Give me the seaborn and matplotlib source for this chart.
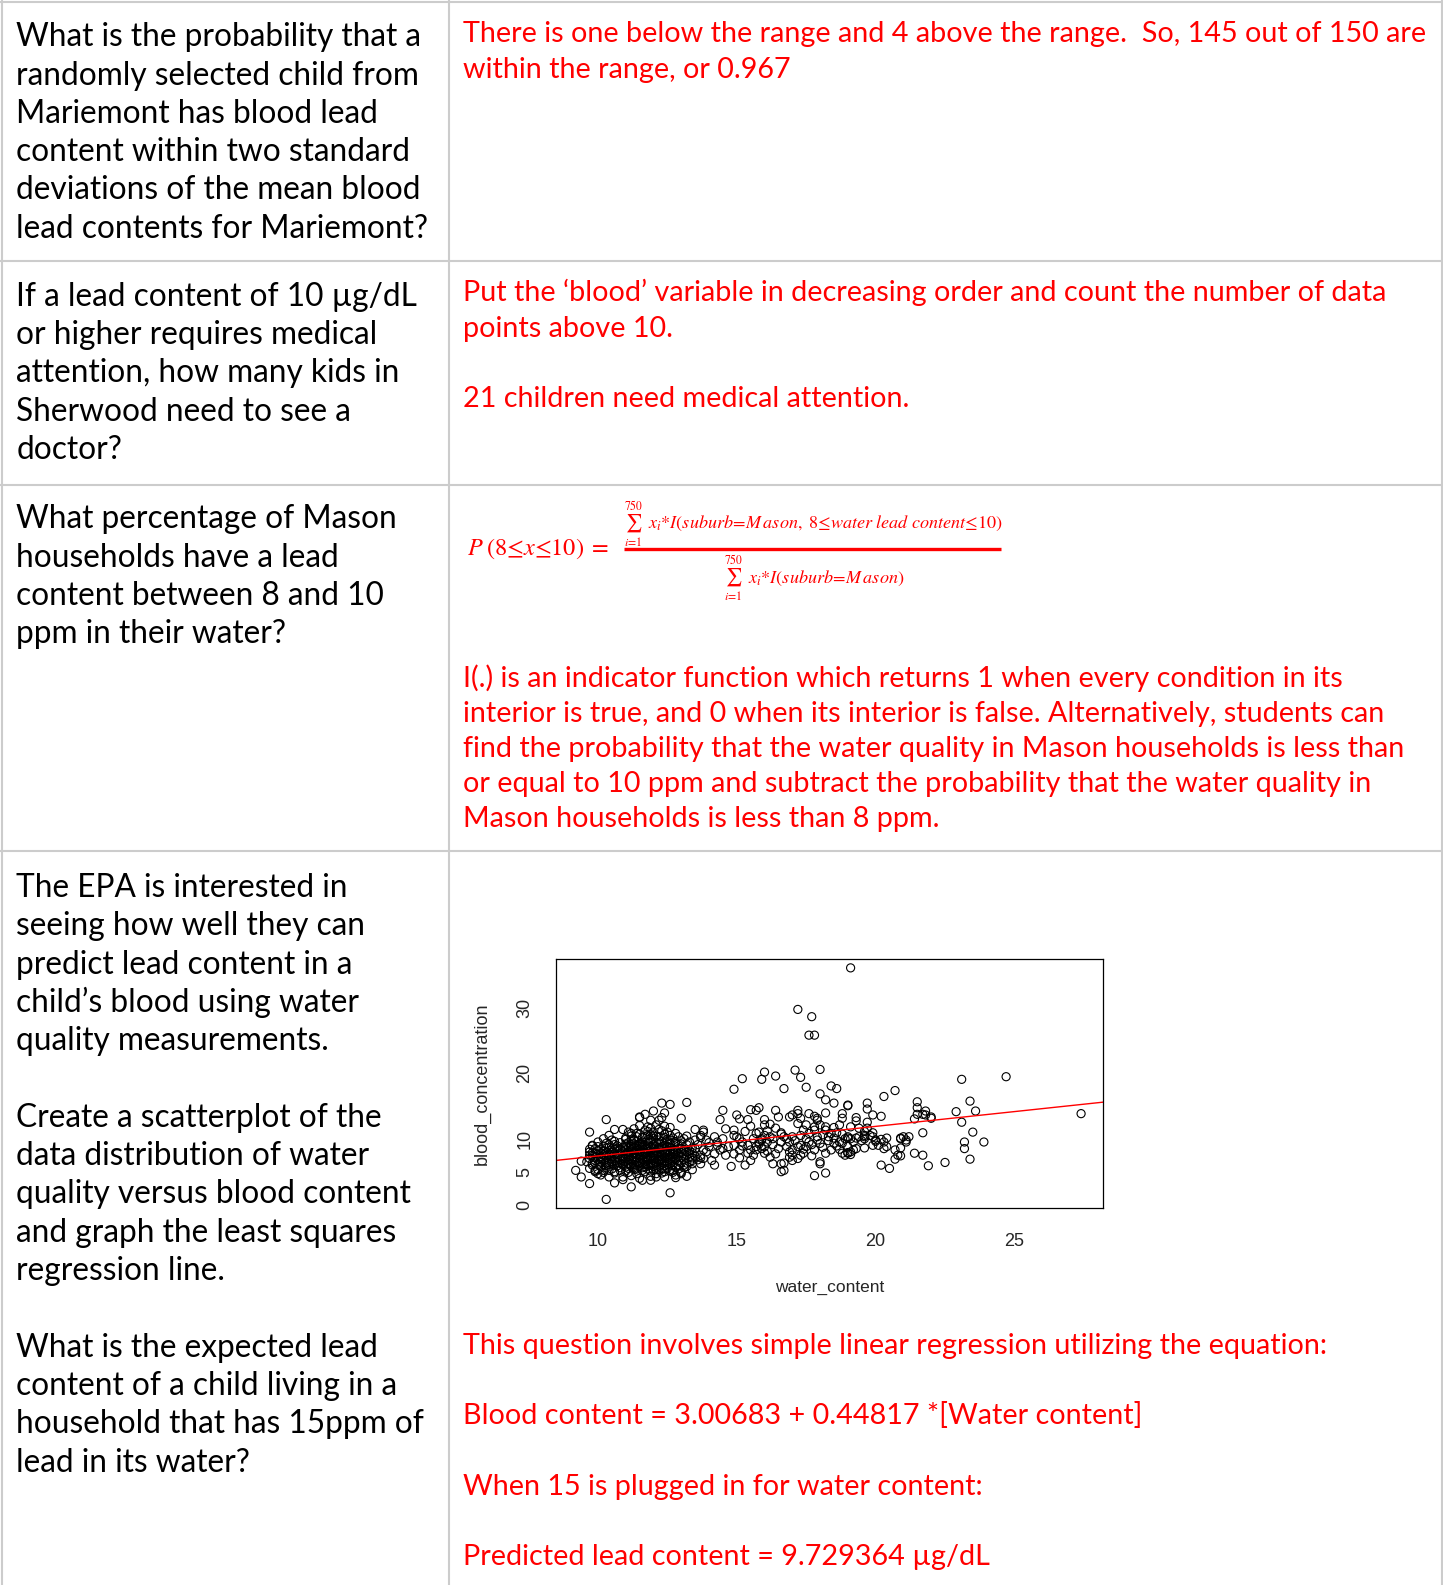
import pandas as pd
import seaborn as sns
import matplotlib.pyplot as plt

# ---------------- text of the table ----------------
q_mariemont = ["What is the probability that a", "randomly selected child from",
               "Mariemont has blood lead", "content within two standard",
               "deviations of the mean blood", "lead contents for Mariemont?"]
q_sherwood = ["If a lead content of 10 µg/dL", "or higher requires medical",
              "attention, how many kids in", "Sherwood need to see a", "doctor?"]
q_mason = ["What percentage of Mason", "households have a lead",
           "content between 8 and 10", "ppm in their water?"]
q_epa = ["The EPA is interested in", "seeing how well they can",
         "predict lead content in a", "child\u2019s blood using water",
         "quality measurements.", "",
         "Create a scatterplot of the", "data distribution of water",
         "quality versus blood content", "and graph the least squares",
         "regression line.", "",
         "What is the expected lead", "content of a child living in a",
         "household that has 15ppm of", "lead in its water?"]

a_mariemont = ["There is one below the range and 4 above the range.  So, 145 out of 150 are",
               "within the range, or 0.967"]
a_sherwood = ["Put the \u2018blood\u2019 variable in decreasing order and count the number of data",
              "points above 10.", "", "21 children need medical attention."]
a_mason = ["I(.) is an indicator function which returns 1 when every condition in its",
           "interior is true, and 0 when its interior is false. Alternatively, students can",
           "find the probability that the water quality in Mason households is less than",
           "or equal to 10 ppm and subtract the probability that the water quality in",
           "Mason households is less than 8 ppm."]
a_epa = ["This question involves simple linear regression utilizing the equation:", "",
         "Blood content = 3.00683 + 0.44817 *[Water content]", "",
         "When 15 is plugged in for water content:", "",
         "Predicted lead content = 9.729364 µg/dL"]

# regression line from the answer
intercept = 3.00683
slope = 0.44817

# ---------------- scatter data (water_content, blood_concentration) ----------------
cluster_pts = [
    (10.1, 4.6), (10.4, 4.3), (11.2, 4.5), (11.5, 4.1), (11.9, 4.4), (12.1, 4.8), (12.4, 4.3), (12.8, 4.6),
    (9.9, 5.1), (10.2, 5.0), (10.6, 4.9), (11.0, 5.2), (11.4, 4.8), (11.7, 5.1), (12.0, 5.3), (12.3, 4.9),
    (12.6, 5.2), (13.0, 5.0), (9.7, 5.6), (10.0, 5.4), (10.3, 5.7), (10.5, 5.5), (10.8, 5.3), (11.1, 5.6),
    (11.3, 5.4), (11.6, 5.7), (11.8, 5.5), (12.1, 5.8), (12.2, 5.4), (12.5, 5.6), (12.7, 5.3), (13.1, 5.7),
    (9.8, 6.1), (10.1, 5.9), (10.4, 6.2), (10.7, 6.0), (10.9, 6.3), (11.2, 5.9), (11.4, 6.1), (11.5, 6.4),
    (11.8, 6.0), (11.9, 6.3), (12.0, 5.9), (12.3, 6.2), (12.4, 6.0), (12.6, 6.3), (12.9, 6.1), (13.2, 5.9),
    (9.6, 6.6), (9.9, 6.4), (10.2, 6.7), (10.4, 6.5), (10.6, 6.8), (10.8, 6.4), (11.0, 6.6), (11.3, 6.8),
    (11.5, 6.5), (11.7, 6.7), (11.9, 6.4), (12.1, 6.6), (12.2, 6.9), (12.5, 6.5), (12.7, 6.7), (13.0, 6.4),
    (13.3, 6.6), (9.7, 7.1), (10.0, 6.9), (10.3, 7.2), (10.5, 7.0), (10.7, 7.3), (11.0, 7.1), (11.1, 6.9),
    (11.4, 7.2), (11.6, 7.0), (11.8, 7.3), (12.0, 7.1), (12.2, 6.9), (12.4, 7.2), (12.6, 7.0), (12.8, 7.3),
    (13.1, 7.0), (13.4, 7.2), (9.8, 7.6), (10.1, 7.4), (10.2, 7.7), (10.4, 7.5), (10.6, 7.8), (10.9, 7.4),
    (11.2, 7.6), (11.3, 7.9), (11.5, 7.5), (11.7, 7.7), (11.9, 7.4), (12.1, 7.6), (12.3, 7.8), (12.5, 7.5),
    (12.7, 7.7), (12.9, 7.4), (13.2, 7.6), (9.7, 8.1), (9.9, 7.9), (10.2, 8.2), (10.5, 8.0), (10.7, 8.3),
    (10.8, 7.9), (11.1, 8.1), (11.4, 8.3), (11.6, 8.0), (11.8, 8.2), (12.0, 7.9), (12.1, 8.3), (12.4, 8.1),
    (12.6, 7.9), (12.8, 8.2), (13.0, 8.0), (13.3, 8.3), (9.9, 8.6), (10.1, 8.4), (10.3, 8.7), (10.6, 8.5),
    (10.9, 8.8), (11.2, 8.5), (11.3, 8.7), (11.5, 8.4), (11.7, 8.6), (11.9, 8.8), (12.2, 8.5), (12.3, 8.7),
    (12.5, 8.4), (12.7, 8.6), (13.1, 8.5), (13.4, 8.7), (9.8, 9.1), (10.0, 8.9), (10.4, 9.2), (10.7, 9.0),
    (11.0, 9.3), (11.2, 8.9), (11.4, 9.1), (11.6, 9.3), (11.8, 9.0), (12.0, 9.2), (12.1, 8.9), (12.4, 9.1),
    (12.6, 9.3), (12.9, 9.0), (13.2, 9.2), (10.0, 9.6), (10.3, 9.4), (10.6, 9.7), (11.1, 9.5), (11.3, 9.8),
    (11.5, 9.4), (11.7, 9.6), (11.9, 9.8), (12.2, 9.5), (12.3, 9.7), (12.6, 9.4), (12.8, 9.6), (13.0, 9.8),
    (10.2, 10.1), (10.5, 9.9), (11.0, 10.2), (11.3, 10.0), (11.6, 10.3), (11.8, 9.9), (12.0, 10.1),
    (12.2, 10.4), (12.5, 10.0), (12.7, 10.2), (13.1, 10.1), (10.4, 10.6), (11.2, 10.5), (11.5, 10.8),
    (11.7, 10.4), (11.9, 10.7), (12.1, 10.5), (12.4, 10.8), (12.6, 10.6), (12.9, 10.4), (11.1, 11.1),
    (11.4, 10.9), (11.8, 11.2), (12.0, 11.0), (12.3, 11.3), (12.5, 11.1), (12.8, 10.9), (11.3, 11.6),
    (11.7, 11.4), (11.9, 11.7), (12.2, 11.5), (12.6, 11.8), (11.5, 12.1), (11.8, 11.9), (12.1, 12.2),
    (12.4, 12.0), (10.9, 6.1), (11.1, 7.4), (11.3, 6.2), (11.6, 8.8), (11.7, 6.2), (12.0, 6.8), (12.2, 8.0),
    (12.3, 7.3), (12.5, 8.9), (11.4, 7.7), (11.0, 8.4), (10.7, 7.7), (10.5, 6.3), (10.3, 8.0), (12.8, 6.9),
    (12.0, 8.6), (11.5, 9.0), (11.9, 7.9), (12.4, 6.6), (11.2, 6.9),
]

cluster_dense_pts = [
    (10.0, 6.2), (10.2, 5.3), (10.3, 6.4), (10.5, 7.4), (10.6, 5.1), (10.8, 6.9), (10.9, 8.1), (11.0, 5.8),
    (11.1, 6.3), (11.2, 8.2), (11.3, 7.3), (11.4, 5.5), (11.5, 7.0), (11.6, 6.4), (11.7, 7.9), (11.8, 6.8),
    (11.9, 5.2), (12.0, 7.6), (12.1, 6.1), (12.2, 7.4), (12.3, 5.6), (12.4, 7.9), (12.5, 6.2), (12.6, 8.3),
    (12.7, 6.0), (12.8, 7.6), (12.9, 8.6), (13.0, 7.3), (13.1, 6.1), (13.2, 8.1), (10.1, 7.0), (10.3, 6.0),
    (10.4, 7.8), (10.6, 6.1), (10.7, 8.7), (10.8, 5.7), (11.0, 7.8), (11.1, 8.7), (11.2, 6.2), (11.3, 9.3),
    (11.4, 6.6), (11.5, 8.1), (11.6, 5.3), (11.7, 9.1), (11.8, 7.0), (11.9, 8.4), (12.0, 6.3), (12.1, 9.6),
    (12.2, 6.7), (12.3, 8.9), (12.4, 5.6), (12.5, 9.7), (12.6, 6.9), (12.7, 8.1), (12.8, 5.8), (12.9, 7.8),
    (13.0, 9.3), (13.1, 7.8), (13.3, 7.9), (13.4, 6.8), (9.9, 7.3), (10.0, 8.3), (10.2, 9.0), (10.4, 5.3),
    (10.5, 8.4), (10.6, 9.2), (10.8, 9.5), (10.9, 6.7), (11.0, 10.0), (11.1, 5.0), (11.2, 9.9), (11.3, 5.7),
    (11.4, 10.4), (11.5, 6.0), (11.6, 9.6), (11.7, 5.8), (11.8, 10.6), (11.9, 6.1), (12.0, 10.5), (12.1, 5.4),
    (12.2, 9.9), (12.3, 6.5), (12.4, 10.3), (12.5, 7.2), (12.6, 9.9), (12.7, 5.0), (12.8, 9.4), (12.9, 5.5),
    (13.0, 8.6), (13.2, 6.4), (10.1, 6.6), (10.3, 7.5), (10.5, 6.6), (10.7, 6.5), (10.9, 7.1), (11.1, 7.7),
    (11.3, 8.0), (11.5, 7.9), (11.7, 7.2), (11.9, 7.2), (12.1, 7.9), (12.3, 6.9), (12.5, 7.9), (12.7, 7.3),
    (12.9, 6.8), (11.0, 8.9), (11.4, 8.6), (11.8, 8.5), (12.2, 8.7), (12.6, 8.8), (10.8, 8.5), (11.2, 9.2),
    (11.6, 9.0), (12.0, 9.0), (12.4, 9.4), (10.4, 8.8), (9.8, 8.0), (9.9, 6.8), (9.7, 7.6), (10.0, 7.8),
    (13.3, 7.3), (13.4, 8.0), (13.5, 7.5), (13.5, 8.6), (13.6, 9.2), (13.3, 9.6), (13.5, 9.9), (13.6, 6.9),
    (13.4, 5.4), (13.2, 10.5),
]

cluster_edge_pts = [
    (10.3, 0.9), (12.6, 1.9), (9.7, 3.3), (9.4, 4.3), (9.2, 5.3), (11.2, 2.8), (10.6, 3.4), (10.9, 3.9),
    (10.9, 4.3), (9.7, 11.1), (10.3, 13.0), (10.6, 11.5), (12.3, 15.5), (12.6, 15.3), (13.2, 15.6),
    (13.0, 13.2), (12.0, 14.3), (11.7, 13.8), (11.5, 13.4), (11.5, 13.3), (11.9, 12.9), (12.2, 12.9),
    (12.3, 13.3), (12.4, 14.0), (13.2, 4.4), (13.0, 4.8), (12.8, 4.2), (13.7, 6.3), (13.4, 6.3),
    (13.7, 7.6), (13.7, 7.2), (13.8, 8.4), (13.7, 10.3), (13.7, 10.6), (13.8, 11.4), (13.5, 11.5),
    (9.7, 8.5), (9.8, 9.0), (9.8, 6.4), (9.4, 6.7), (10.0, 4.8), (9.9, 5.3), (10.9, 11.5), (11.2, 10.9),
    (11.6, 3.8), (11.9, 3.8), (12.1, 4.3), (12.4, 5.1), (12.7, 5.3), (12.9, 6.1),
]

mid_pts = [
    (14.9, 17.6), (15.2, 19.2), (15.9, 19.1), (16.0, 20.2), (16.4, 19.6), (16.7, 17.7), (17.1, 20.5),
    (17.3, 19.4), (17.5, 17.9), (18.0, 20.6), (18.4, 18.1), (18.6, 17.7), (18.0, 16.9), (18.2, 16.0),
    (18.5, 15.5), (19.0, 15.1), (14.5, 14.4), (14.4, 13.0), (15.0, 13.7), (15.1, 13.1), (15.5, 14.5),
    (15.7, 14.4), (15.8, 14.8), (15.4, 13.0), (15.5, 12.0), (16.0, 13.0), (16.0, 12.2), (16.2, 12.3),
    (16.4, 14.4), (16.5, 13.4), (16.4, 11.7), (16.6, 11.0), (16.7, 10.4), (16.9, 13.4), (17.0, 13.7),
    (17.2, 13.9), (17.2, 14.4), (17.3, 13.2), (17.2, 12.4), (17.4, 11.4), (17.5, 12.2), (17.6, 13.9),
    (17.8, 13.5), (17.9, 12.9), (18.2, 14.0), (18.2, 11.9), (18.5, 11.8), (18.7, 12.2), (18.8, 13.2),
    (18.8, 13.9), (13.8, 11.1), (13.9, 9.9), (14.2, 10.4), (14.3, 9.6), (14.3, 9.1), (14.5, 10.1),
    (14.6, 11.6), (14.9, 11.4), (14.0, 8.9), (13.9, 8.1), (13.8, 7.1), (14.2, 6.1), (14.1, 6.8),
    (14.8, 5.9), (14.6, 7.6), (14.9, 7.8), (15.1, 8.4), (15.1, 10.1), (15.2, 9.6), (15.3, 6.1),
    (15.5, 6.8), (15.6, 7.6), (15.7, 8.4), (15.7, 8.9), (15.8, 9.6), (15.8, 9.3), (15.9, 8.6),
    (16.0, 7.9), (16.0, 8.9), (16.2, 7.3), (16.3, 6.3), (16.6, 5.1), (16.7, 5.3), (16.6, 6.3),
    (16.7, 6.4), (16.9, 7.3), (17.0, 7.6), (17.0, 6.8), (17.2, 7.1), (17.3, 7.6), (17.4, 7.9),
    (17.5, 8.9), (17.3, 9.1), (17.2, 8.9), (17.0, 8.4), (16.9, 9.6), (16.8, 10.1), (16.6, 9.6),
    (17.8, 4.5), (18.2, 4.9), (18.0, 6.3), (18.0, 6.6), (17.8, 8.4), (18.2, 7.9), (18.4, 8.4),
    (18.7, 8.5), (18.8, 7.9), (19.0, 8.0), (19.0, 8.9), (18.8, 9.4), (18.7, 9.6), (18.9, 10.1),
    (19.0, 10.4), (15.7, 10.9), (15.8, 11.1), (16.0, 10.6), (15.9, 10.1), (16.1, 9.6), (16.2, 10.4),
    (16.3, 10.1), (15.5, 8.4), (15.4, 9.1), (14.9, 9.1), (15.0, 10.4), (17.9, 13.2), (18.0, 12.2),
    (17.8, 11.9), (17.6, 10.9), (17.9, 10.4), (18.2, 11.4), (18.3, 10.4), (18.4, 10.9), (17.6, 9.6),
    (18.0, 9.4), (14.0, 9.5), (14.4, 8.4), (14.7, 8.9), (14.9, 10.6), (15.2, 9.0), (15.3, 11.2),
    (15.6, 10.1), (15.9, 9.9), (16.1, 11.3), (16.3, 9.2), (16.5, 8.6), (16.6, 10.8), (16.8, 8.9),
    (17.0, 10.4), (17.1, 9.8), (17.3, 10.6), (17.5, 10.1), (17.7, 9.2), (17.9, 9.9), (18.1, 10.7),
    (18.3, 9.8), (18.5, 10.2), (18.6, 9.0), (18.8, 10.8), (16.4, 7.8), (16.9, 8.1), (17.4, 8.5),
    (17.7, 7.5), (18.1, 8.8), (18.5, 9.4), (15.1, 7.2), (15.4, 7.9), (14.5, 8.6), (14.2, 7.8),
    (16.1, 8.2), (17.8, 11.4), (18.6, 11.0),
]

upper_pts = [
    (17.2, 29.7), (17.7, 28.6), (17.6, 25.8), (17.8, 25.8), (19.1, 36.0),
    (23.1, 19.1), (24.7, 19.5), (27.4, 13.9), (20.7, 17.4), (20.3, 16.5), (19.0, 15.2), (19.7, 15.5),
    (19.7, 14.6), (19.3, 13.3), (19.3, 12.8), (19.9, 13.7), (20.2, 13.5), (19.7, 12.6), (19.7, 11.7),
    (19.1, 11.9), (21.5, 15.7), (21.5, 14.8), (21.8, 14.3), (21.7, 13.8), (21.5, 13.8), (21.8, 13.7),
    (22.0, 13.4), (22.0, 13.2), (21.4, 13.1), (21.7, 11.0), (22.9, 14.2), (23.1, 12.6), (23.4, 15.8),
    (23.6, 14.3), (23.5, 11.1), (23.2, 9.6), (23.2, 8.6), (23.9, 9.6), (23.4, 7.0), (22.5, 6.5),
    (21.9, 6.0), (21.4, 7.9), (21.7, 7.6), (21.2, 10.4), (21.1, 9.6), (20.9, 10.2), (20.9, 10.1),
    (21.0, 10.4), (21.1, 9.9), (20.9, 8.7), (20.7, 8.4), (20.8, 7.6), (20.7, 7.0), (20.9, 7.5),
    (20.5, 5.6), (20.2, 6.1), (20.4, 10.2), (20.3, 9.6), (20.4, 8.9), (20.3, 8.6), (20.0, 9.9),
    (20.0, 9.7), (19.9, 10.4), (19.6, 10.1), (19.6, 10.4), (19.4, 10.4), (19.3, 10.2), (19.1, 10.1),
    (19.0, 10.2), (19.6, 8.7), (19.9, 9.1), (20.1, 9.1), (19.0, 7.9), (19.1, 7.7), (19.2, 8.4),
    (19.3, 8.6), (19.1, 8.1), (18.9, 7.6), (19.4, 11.7), (19.6, 11.2), (19.6, 10.6), (19.8, 10.6),
    (19.9, 11.0), (19.2, 9.6), (19.5, 9.8), (20.2, 10.0),
]

all_pts = cluster_pts + cluster_dense_pts + cluster_edge_pts + mid_pts + upper_pts
df = pd.DataFrame(all_pts, columns=["water_content", "blood_concentration"])

# ---------------- figure ----------------
W, H = 1443, 1585
sns.set_style("white")
plt.rcParams["font.family"] = ["Lato", "DejaVu Sans"]
plt.rcParams["mathtext.fontset"] = "stix"

fig = plt.figure(figsize=(W / 100, H / 100), dpi=100)
bg = fig.add_axes([0, 0, 1, 1])
bg.set_xlim(0, W)
bg.set_ylim(H, 0)
bg.axis("off")

RED = "#ff0000"
GRID = "#cccccc"

# table rules
for xv in [2, 449, 1441.5]:
    bg.axvline(xv, color=GRID, lw=1.5)
for yv in [1.5, 261, 484.5, 851]:
    bg.axhline(yv, color=GRID, lw=1.5)


def put_lines(lines, x, y0, pitch, size, color):
    for i, line in enumerate(lines):
        if line:
            bg.text(x, y0 + i * pitch, line, fontsize=size, color=color,
                    ha="left", va="baseline")


LEFT_X, RIGHT_X = 16.2, 462.8
LS, RS = 22.8, 20.7
put_lines(q_mariemont, LEFT_X, 46.5, 38.2, LS, "black")
put_lines(q_sherwood, LEFT_X, 306, 38.2, LS, "black")
put_lines(q_mason, LEFT_X, 528.5, 38.2, LS, "black")
put_lines(q_epa, LEFT_X, 897, 38.3, LS, "black")

put_lines(a_mariemont, RIGHT_X, 42, 36.2, RS, RED)
put_lines(a_sherwood, RIGHT_X, 301.5, 35.2, RS, RED)
put_lines(a_mason, RIGHT_X, 687.5, 34.9, RS, RED)
put_lines(a_epa, RIGHT_X, 1354, 35.2, RS, RED)

# formula in row 3
LEQ = "\u2264"
bg.text(467, 549, "$P\\;(8" + LEQ + "x" + LEQ + "10)\\;=$", fontsize=17.5, color=RED, va="center")
bg.text(633.6, 505, "$750$", fontsize=8.5, color=RED, ha="center", va="center")
bg.text(633.6, 523, "$\\sum$", fontsize=13, color=RED, ha="center", va="center")
bg.text(633.6, 541.5, "$i\\!=\\!1$", fontsize=8.5, color=RED, ha="center", va="center")
bg.text(648, 523.5,
        "$x_i{*}I(suburb\\!=\\!M\\,ason,\\ 8" + LEQ + "water\\ lead\\ content" + LEQ + "10)$",
        fontsize=13.1, color=RED, va="center")
bg.plot([623.5, 1001.4], [549, 549], color=RED, lw=2.4, solid_capstyle="butt")
bg.text(733.6, 559, "$750$", fontsize=8.5, color=RED, ha="center", va="center")
bg.text(733.6, 577, "$\\sum$", fontsize=13, color=RED, ha="center", va="center")
bg.text(733.6, 595, "$i\\!=\\!1$", fontsize=8.5, color=RED, ha="center", va="center")
bg.text(748, 578, "$x_i{*}I(suburb\\!=\\!M\\,ason)$", fontsize=13.1, color=RED, va="center")

# ---------------- scatter plot ----------------
left, right, top, bottom = 555.7, 1103.3, 959.3, 1208.3
ax = fig.add_axes([left / W, 1 - bottom / H, (right - left) / W, (bottom - top) / H])
sns.scatterplot(data=df, x="water_content", y="blood_concentration", ax=ax,
                marker="o", s=34, facecolor="none", edgecolor="black", linewidth=0.8)
ax.axline((0, intercept), slope=slope, color=RED, lw=1.0)

ax.set_xlim(8.48, 28.2)
ax.set_ylim(-0.45, 37.3)
ax.set_xticks([10, 15, 20, 25])
ax.set_xticklabels(["10", "15", "20", "25"], family="Liberation Sans", fontsize=13)
ax.set_yticks([0, 5, 10, 15, 20, 25, 30, 35])
ax.set_yticklabels(["0", "5", "10", "", "20", "", "30", ""], family="Liberation Sans",
                   fontsize=13, rotation=90, va="center")
ax.tick_params(axis="both", direction="out", length=7, width=0.9, color="black")
ax.tick_params(axis="x", pad=11)
ax.tick_params(axis="y", pad=9)
for sp in ax.spines.values():
    sp.set_visible(True)
    sp.set_color("black")
    sp.set_linewidth(0.9)

ax.set_xlabel("water_content", family="Liberation Sans", fontsize=12.5, va="center")
ax.set_ylabel("blood_concentration", family="Liberation Sans", fontsize=13, va="center")
ax.xaxis.set_label_coords(0.5, -0.318)
ax.yaxis.set_label_coords(-0.135, 0.5)

fig.savefig("out.png", dpi=100)
